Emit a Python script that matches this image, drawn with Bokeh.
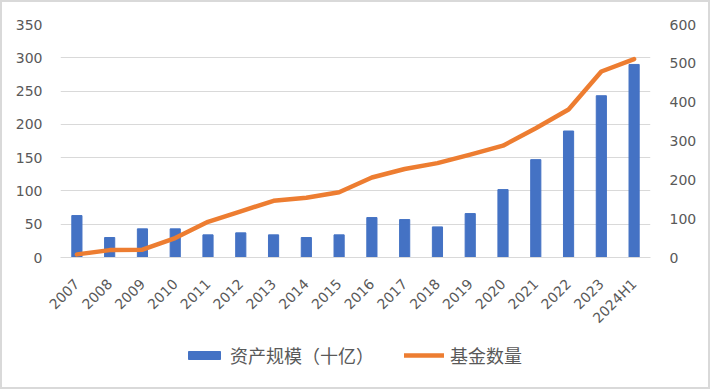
from bokeh.plotting import figure
from bokeh.models import Range1d, LinearAxis, FactorRange, Legend, LegendItem, SingleIntervalTicker, ColumnDataSource
from bokeh.layouts import column
from bokeh.embed import file_html
from bokeh.resources import INLINE
import math

categories = ["2007", "2008", "2009", "2010", "2011", "2012", "2013", "2014", "2015",
              "2016", "2017", "2018", "2019", "2020", "2021", "2022", "2023", "2024H1"]
assets = [63, 30, 43, 43, 34, 37, 34, 30, 34, 60, 57, 46, 66, 102, 147, 190, 243, 290]
fund_count = [8, 19, 20, 50, 92, 119, 146, 154, 168, 206, 228, 243, 265, 288, 333, 381, 479, 511]
bar_label = "资产规模（十亿）"
line_label = "基金数量"

GRAY = "#595959"
GRID = "#d9d9d9"
FONT = "DejaVu Sans"
BAR_COLOR = "#4472C4"
LINE_COLOR = "#ED7D31"

p = figure(width=706, height=338, output_backend="svg", toolbar_location=None,
           x_range=FactorRange(factors=categories, range_padding=0),
           y_range=Range1d(0, 350),
           min_border_left=58, min_border_right=58, min_border_top=22, min_border_bottom=83)
p.extra_y_ranges = {"right": Range1d(0, 600)}
p.outline_line_color = None

src = ColumnDataSource(dict(cat=categories, assets=assets, n=fund_count))
bars = p.vbar(x="cat", top="assets", width=0.31, source=src, color=BAR_COLOR)
line = p.line(x="cat", y="n", source=src, y_range_name="right", line_color=LINE_COLOR,
              line_width=4.5, line_cap="round", line_join="round")

p.xgrid.grid_line_color = None
p.ygrid.grid_line_color = GRID
p.ygrid.ticker = SingleIntervalTicker(interval=50)

p.yaxis.ticker = SingleIntervalTicker(interval=50)
for ax in p.yaxis:
    ax.axis_line_color = None
    ax.major_tick_line_color = None
    ax.minor_tick_line_color = None
    ax.major_tick_out = 0
    ax.major_label_standoff = 14
    ax.major_label_text_font = FONT
    ax.major_label_text_font_size = "14px"
    ax.major_label_text_color = GRAY

right = LinearAxis(y_range_name="right", ticker=SingleIntervalTicker(interval=100),
                   axis_line_color=None, major_tick_line_color=None, minor_tick_line_color=None,
                   major_tick_out=0, major_label_standoff=15, major_label_text_font=FONT,
                   major_label_text_font_size="14px", major_label_text_color=GRAY)
p.add_layout(right, "right")

xa = p.xaxis[0]
xa.axis_line_color = GRID
xa.axis_line_width = 1
xa.major_tick_line_color = None
xa.minor_tick_line_color = None
xa.major_tick_out = 0
xa.major_label_standoff = 24
xa.major_label_orientation = math.pi / 4
xa.major_label_text_font = FONT
xa.major_label_text_font_size = "14px"
xa.major_label_text_color = GRAY

# legend strip below the chart; its renderers hold the same data but sit outside the visible range
lg = figure(width=706, height=47, output_backend="svg", toolbar_location=None,
            x_range=FactorRange(factors=categories), y_range=Range1d(10000, 10001),
            x_axis_location=None, y_axis_location=None,
            min_border_left=0, min_border_right=0, min_border_top=0, min_border_bottom=0)
lg.grid.visible = False
lg.outline_line_color = None
lbar = lg.vbar(x="cat", top="assets", width=0.31, source=src, color=BAR_COLOR)
lline = lg.line(x="cat", y="n", source=src, line_color=LINE_COLOR, line_width=4.5, line_cap="round")

legend = Legend(items=[LegendItem(label=bar_label, renderers=[lbar]),
                       LegendItem(label=line_label, renderers=[lline])],
                orientation="horizontal", location=(124, 19),
                glyph_width=40, glyph_height=10, spacing=30, label_standoff=6,
                label_text_font="Noto Sans CJK SC", label_text_font_size="18px",
                label_text_color=GRAY, border_line_color=None, background_fill_alpha=0,
                padding=0, margin=0)
lg.add_layout(legend, "center")

layout = column(p, lg, spacing=0, styles={"border": "2px solid #d9d9d9"})

open("out.html", "w").write(file_html(layout, INLINE))
